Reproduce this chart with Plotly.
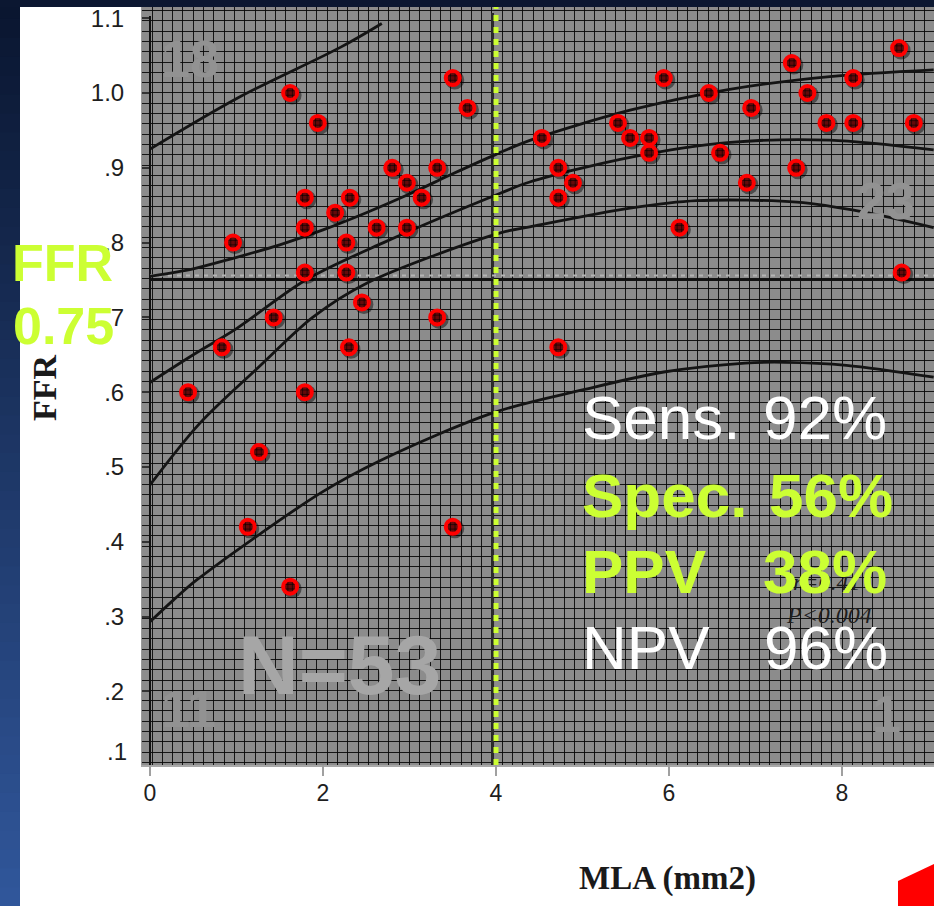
import plotly.graph_objects as go

# ---- lesion data: minimal lumen area (mm2) vs fractional flow reserve ----
mla = [1.62, 1.94, 3.50, 3.67, 1.79, 1.79, 1.79, 0.96, 2.31, 2.14, 2.62, 2.80, 2.97, 3.14,
       3.32, 2.97, 2.27, 2.27, 2.45, 3.32, 2.30, 1.79, 1.43, 0.83, 0.44, 1.26, 1.13, 1.62,
       3.50, 4.53, 4.72, 8.66, 7.42, 8.13, 5.94, 6.46, 7.60, 6.95, 7.82, 8.13, 8.83, 5.41,
       5.55, 5.77, 5.77, 6.59, 4.72, 7.47, 4.89, 4.72, 6.90, 6.12, 8.69]
ffr = [1.00, 0.96, 1.02, 0.98, 0.86, 0.82, 0.76, 0.80, 0.86, 0.84, 0.82, 0.90, 0.88, 0.86,
       0.90, 0.82, 0.80, 0.76, 0.72, 0.70, 0.66, 0.60, 0.70, 0.66, 0.60, 0.52, 0.42, 0.34,
       0.42, 0.94, 0.66, 1.06, 1.04, 1.02, 1.02, 1.00, 1.00, 0.98, 0.96, 0.96, 0.96, 0.96,
       0.94, 0.94, 0.92, 0.92, 0.90, 0.90, 0.88, 0.86, 0.88, 0.82, 0.76]

# ---- regression curve, confidence band and prediction band ----
pred_hi_x = [0.0, 1.04, 2.20, 2.68]
pred_hi_y = [0.925, 0.995, 1.061, 1.093]
ci_hi_x = [0.0, 0.5, 0.96, 1.5, 2.0, 2.5, 3.0, 3.5, 4.0, 4.4, 5.55, 6.7, 7.86, 9.06]
ci_hi_y = [0.755, 0.765, 0.779, 0.797, 0.817, 0.840, 0.865, 0.892, 0.918, 0.937, 0.977, 1.005, 1.022, 1.031]
fit_x = [0.0, 0.5, 1.0, 1.8, 2.7, 4.05, 4.39, 5.55, 6.71, 7.86, 9.06]
fit_y = [0.613, 0.650, 0.685, 0.750, 0.800, 0.866, 0.881, 0.914, 0.934, 0.937, 0.924]
ci_lo_x = [0.0, 0.58, 1.27, 1.88, 2.51, 4.05, 4.39, 5.55, 6.32, 7.48, 8.24, 9.06]
ci_lo_y = [0.476, 0.559, 0.635, 0.700, 0.746, 0.813, 0.821, 0.846, 0.856, 0.854, 0.841, 0.820]
pred_lo_x = [0.0, 0.27, 0.54, 1.97, 2.67, 3.98, 5.0, 5.94, 6.88, 7.34, 8.05, 9.06]
pred_lo_y = [0.293, 0.322, 0.349, 0.465, 0.509, 0.573, 0.603, 0.627, 0.639, 0.640, 0.636, 0.620]

# ---- thresholds and tick labels ----
ffr_cut = 0.75
mla_cut = 4.0
mla_cut_drawn = 3.96
x_ticks = [0, 2, 4, 6, 8]
y_ticks = [0.2, 0.3, 0.4, 0.5, 0.6, 0.7, 0.8, 0.9, 1.0, 1.1]
y_tick_text = [".2", ".3", ".4", ".5", ".6", ".7", ".8", ".9", "1.0", "1.1"]
quadrant_counts = ["18", "23", "11", "1"]
stats_labels = ["Sens.", "Spec.", "PPV", "NPV"]
stats_values = ["92%", "56%", "38%", "96%"]

# ---- page geometry ----
W, H = 934, 906
ML, MR, MT, MB = 142, 0, 7, 141
PLOT_W, PLOT_H = W - ML - MR, H - MT - MB
X_RANGE = [-8 / 86.5, 784 / 86.5]
Y_RANGE = [1.0 - 672 / 748, 1.0 + 86 / 748]


def px_x(p):
    return (p - ML) / PLOT_W


def px_y(p):
    return (H - MB - p) / PLOT_H


SANS = "Liberation Sans, Arial, sans-serif"
SERIF = "Liberation Serif, Times New Roman, serif"
LIME = "#ccff33"

shapes = []

# graph-paper background grid
GRID = 10.3
p = 151.5
while p - GRID > ML:
    p -= GRID
while p < W:
    q = round(p) + 0.5
    shapes.append(dict(type="line", xref="paper", yref="paper", x0=px_x(q), x1=px_x(q),
                       y0=0, y1=1, line=dict(color="rgba(8,8,8,0.9)", width=1), layer="below"))
    p += GRID
p = 92.5
while p - GRID > MT:
    p -= GRID
while p < H - MB:
    q = round(p) + 0.5
    shapes.append(dict(type="line", xref="paper", yref="paper", x0=0, x1=1,
                       y0=px_y(q), y1=px_y(q), line=dict(color="rgba(8,8,8,0.9)", width=1), layer="below"))
    p += GRID

# reference lines
shapes.append(dict(type="line", xref="x", yref="y", x0=0, x1=X_RANGE[1], y0=ffr_cut + 0.006,
                   y1=ffr_cut + 0.006, line=dict(color="#b4b4b4", width=2, dash="4px,5px"), layer="below"))
shapes.append(dict(type="line", xref="x", yref="y", x0=0, x1=X_RANGE[1], y0=ffr_cut, y1=ffr_cut,
                   line=dict(color="#111111", width=2), layer="below"))
shapes.append(dict(type="line", xref="x", yref="paper", x0=0, x1=0, y0=0, y1=px_y(16),
                   line=dict(color="#111111", width=2), layer="below"))
shapes.append(dict(type="line", xref="x", yref="paper", x0=mla_cut_drawn, x1=mla_cut_drawn,
                   y0=0, y1=px_y(13), line=dict(color="#2a2a2a", width=3), layer="below"))
shapes.append(dict(type="line", xref="x", yref="paper", x0=mla_cut, x1=mla_cut, y0=0, y1=1,
                   line=dict(color=LIME, width=5, dash="6px,6px"), layer="above"))

# x tick marks hanging below the frame
for t in x_ticks:
    shapes.append(dict(type="line", xref="x", yref="paper", x0=t, x1=t, y0=px_y(765), y1=px_y(776),
                       line=dict(color="#a0a0a0", width=2), layer="above"))


# slide frame: dark gradient strip on the left, dark band on top, red corner
def lerp(c1, c2, t):
    return "rgb(%d,%d,%d)" % tuple(round(a + (b - a) * t) for a, b in zip(c1, c2))


N_BANDS = 48
top_col, bot_col = (10, 22, 48), (48, 86, 154)
for i in range(N_BANDS):
    y0p = i * H / N_BANDS
    y1p = (i + 1) * H / N_BANDS + 1
    shapes.append(dict(type="rect", xref="paper", yref="paper", x0=px_x(0), x1=px_x(20),
                       y0=px_y(y1p), y1=px_y(y0p), fillcolor=lerp(top_col, bot_col, i / (N_BANDS - 1)),
                       line=dict(width=0), layer="above"))
shapes.append(dict(type="rect", xref="paper", yref="paper", x0=px_x(0), x1=px_x(W),
                   y0=px_y(7), y1=px_y(0), fillcolor="#0b1731", line=dict(width=0), layer="above"))
corner = [(898, 881), (934, 864), (934, 906), (898, 906)]
path = "M " + " L ".join("%f,%f" % (px_x(a), px_y(b)) for a, b in corner) + " Z"
shapes.append(dict(type="path", xref="paper", yref="paper", path=path, fillcolor="#ff0000",
                   line=dict(width=0), layer="above"))

fig = go.Figure()

curve_style = dict(color="#141414", width=2.8, shape="spline", smoothing=0.9)
for cx, cy in [(pred_hi_x, pred_hi_y), (ci_hi_x, ci_hi_y), (fit_x, fit_y),
               (ci_lo_x, ci_lo_y), (pred_lo_x, pred_lo_y)]:
    fig.add_trace(go.Scatter(x=cx, y=cy, mode="lines", line=curve_style, hoverinfo="skip"))

# marker shadow, marker, and the fine hatch inside each marker
sdx, sdy = 2 / 86.5, -2 / 748
fig.add_trace(go.Scatter(x=[v + sdx for v in mla], y=[v + sdy for v in ffr], mode="markers",
                         marker=dict(size=19, color="rgba(0,0,0,0.45)", line=dict(width=0)),
                         hoverinfo="skip"))
fig.add_trace(go.Scatter(x=mla, y=ffr, mode="markers",
                         marker=dict(size=14, color="#640a0a", line=dict(color="#ff0000", width=4))))
fig.add_trace(go.Scatter(x=mla, y=ffr, mode="markers", hoverinfo="skip",
                         marker=dict(symbol="hash-open", size=9, color="rgba(0,0,0,0.7)",
                                     line=dict(width=0.8, color="rgba(0,0,0,0.7)"))))

ann = []


def label(text, xp, yp, size, color, xanchor="center", family=SANS, weight="normal", angle=0):
    ann.append(dict(text=text, xref="paper", yref="paper", x=px_x(xp), y=px_y(yp), showarrow=False,
                    xanchor=xanchor, yanchor="middle", textangle=angle,
                    font=dict(family=family, size=size, color=color, weight=weight)))


# quadrant counts and sample size
label(quadrant_counts[0], 190, 59, 52, "#929292", weight="bold")
label(quadrant_counts[1], 886, 201, 52, "#929292", weight="bold")
label(quadrant_counts[2], 188, 709, 52, "#929292", weight="bold")
label(quadrant_counts[3], 886, 714, 52, "#929292", weight="bold")
label("N=53", 236, 665, 84, "#a6a6a6", xanchor="left", weight="bold")

# correlation annotation of the fit
label("<i>r=0.41</i>", 827, 582, 24, "#1e1e1e", family=SERIF)
label("<i>P<0.004</i>", 829, 615, 24, "#1e1e1e", family=SERIF)

# diagnostic performance of the MLA cut-off
stat_rows = [417, 495, 571, 647]
stat_colors = ["#ffffff", LIME, LIME, "#ffffff"]
stat_weights = ["normal", "bold", "bold", "normal"]
stat_right = [889, 895, 889, 890]
for i in range(4):
    label(stats_labels[i], 580, stat_rows[i], 62, stat_colors[i], xanchor="left", weight=stat_weights[i])
    label(stats_values[i], stat_right[i], stat_rows[i], 62, stat_colors[i], xanchor="right",
          weight=stat_weights[i])

# FFR threshold call-out
label("FFR", 10, 263, 52, LIME, xanchor="left", weight="bold")
label("0.75", 11, 326, 52, LIME, xanchor="left", weight="bold")

# axis titles and the lowest y label
label("FFR", 45, 388, 34, "#1a1a1a", family=SERIF, weight="bold", angle=-90)
label("MLA (mm2)", 667, 878, 33, "#1a1a1a", family=SERIF, weight="bold")
label(".1", 129, 751, 24, "#1e1e1e", xanchor="right")

fig.update_layout(
    width=W, height=H, margin=dict(l=ML, r=MR, t=MT, b=MB, pad=0),
    paper_bgcolor="#ffffff", plot_bgcolor="#8c8c8c", showlegend=False,
    shapes=shapes, annotations=ann,
    xaxis=dict(range=X_RANGE, tickmode="array", tickvals=x_ticks, ticktext=[str(v) for v in x_ticks],
               ticks="", showgrid=False, ticklabelstandoff=6,
               zeroline=False, showline=True, linecolor="#a8a8a8", linewidth=2,
               tickfont=dict(family=SANS, size=23, color="#1e1e1e"), fixedrange=True),
    yaxis=dict(range=Y_RANGE, tickmode="array", tickvals=y_ticks, ticktext=y_tick_text,
               ticks="inside", ticklen=7, tickwidth=2, tickcolor="#333333", showgrid=False,
               zeroline=False, showline=True, linecolor="#9a9a9a", linewidth=1,
               ticklabelstandoff=12,
               tickfont=dict(family=SANS, size=24, color="#1e1e1e"), fixedrange=True),
)

fig.write_html("out.html")
